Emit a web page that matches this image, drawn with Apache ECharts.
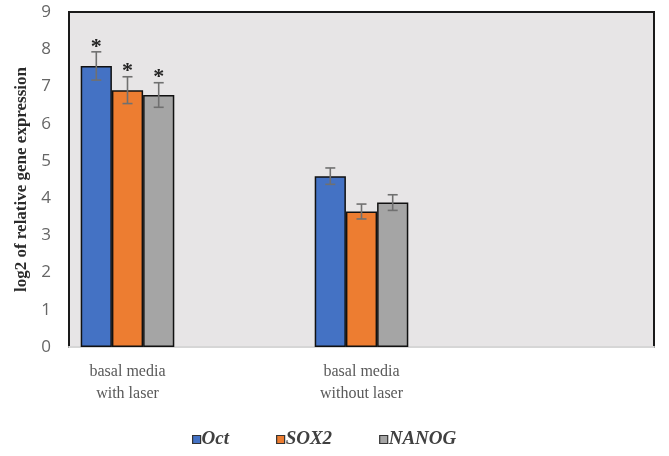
<!DOCTYPE html>
<html>
<head>
<meta charset="utf-8">
<script src="https://cdn.jsdelivr.net/npm/echarts@6/dist/echarts.min.js"></script>
<style>
  html, body { margin: 0; padding: 0; background: #fff; }
  #chart { width: 669px; height: 456px; }
</style>
</head>
<body>
<div id="chart"></div>
<script>
// categories (empty slots keep the spacing of the original plot)
let categories = ['basal media\nwith laser', '', 'basal media\nwithout laser', '', '']
let seriesNames = ['Oct', 'SOX2', 'NANOG']
let octValues = [7.55, null, 4.59, null, null]
let sox2Values = [6.90, null, 3.64, null, null]
let nanogValues = [6.77, null, 3.88, null, null]
let octErr = [0.38, null, 0.22, null, null]
let sox2Err = [0.36, null, 0.20, null, null]
let nanogErr = [0.33, null, 0.21, null, null]
let significant = [true, false, false, false, false]
let yTicks = [0, 1, 2, 3, 4, 5, 6, 7, 8, 9]

let colors = ['#4472C4', '#ED7D31', '#A5A5A5']
let values = [octValues, sox2Values, nanogValues]
let errors = [octErr, sox2Err, nanogErr]

let catGap = 0.2

// error bar data: [category, value, err, seriesIndex, star]
let errData = []
for (let s = 0; s < 3; s++) {
  for (let i = 0; i < categories.length; i++) {
    if (values[s][i] != null) {
      errData.push([i, values[s][i], errors[s][i], s, significant[i] ? 1 : 0])
    }
  }
}

function renderErr(params, api) {
  let cat = api.value(0)
  let v = api.value(1)
  let e = api.value(2)
  let s = api.value(3)
  let star = api.value(4)
  let band = api.size([1, 0])[0]
  let bw = band * (1 - catGap) / 3
  let center = api.coord([cat, v])
  let x = center[0] + (s - 1) * bw
  let top = api.coord([cat, v + e])[1]
  let bot = api.coord([cat, v - e])[1]
  let cap = 5
  let style = { stroke: '#707070', lineWidth: 1.6 }
  let children = [
    { type: 'line', shape: { x1: x, y1: top, x2: x, y2: bot }, style: style },
    { type: 'line', shape: { x1: x - cap, y1: top, x2: x + cap, y2: top }, style: style },
    { type: 'line', shape: { x1: x - cap, y1: bot, x2: x + cap, y2: bot }, style: style }
  ]
  if (star) {
    children.push({
      type: 'text',
      style: {
        text: '*', x: x, y: top - 5, align: 'center', verticalAlign: 'middle',
        font: 'bold 22px "Liberation Serif"', fill: '#222'
      }
    })
  }
  return { type: 'group', children: children }
}

let chart = echarts.init(document.getElementById('chart'))
let option = {
  backgroundColor: '#fff',
  animation: false,
  grid: {
    left: 69,
    right: 15,
    top: 12,
    bottom: 109,
    outerBoundsMode: 'none',
    containLabel: false,
    show: true,
    backgroundColor: '#e7e5e6',
    borderColor: '#1a1a1a',
    borderWidth: 2
  },
  legend: {
    top: 425,
    left: 187,
    data: seriesNames,
    icon: 'rect',
    itemWidth: 8,
    itemHeight: 8,
    itemGap: 47,
    itemStyle: { borderColor: '#333', borderWidth: 1.2 },
    textStyle: {
      fontFamily: 'Liberation Serif',
      fontStyle: 'italic',
      fontWeight: 'bold',
      fontSize: 19,
      color: '#404040',
      padding: [0, 0, 0, -4]
    }
  },
  xAxis: {
    type: 'category',
    data: categories,
    axisLine: { show: true, lineStyle: { color: '#d6d6d6', width: 2 } },
    axisTick: { show: false },
    axisLabel: {
      interval: 0,
      margin: 14,
      fontFamily: 'Liberation Serif',
      fontSize: 16,
      lineHeight: 22,
      color: '#595959'
    }
  },
  yAxis: {
    type: 'value',
    min: yTicks[0],
    max: yTicks[yTicks.length - 1],
    interval: 1,
    name: 'log2 of relative gene expression',
    nameLocation: 'middle',
    nameGap: 35,
    nameTextStyle: {
      fontFamily: 'Liberation Serif',
      fontWeight: 'bold',
      fontSize: 17,
      color: '#2a2a2a'
    },
    axisLine: { show: true, lineStyle: { color: '#1a1a1a', width: 2 } },
    axisTick: { show: false },
    splitLine: { show: false },
    axisLabel: {
      margin: 18,
      fontFamily: 'Open Sans',
      fontSize: 17,
      color: '#666'
    }
  },
  series: [
    {
      name: seriesNames[0], type: 'bar', data: octValues,
      barGap: 0, barCategoryGap: (catGap * 100) + '%',
      itemStyle: { color: colors[0], borderColor: '#111', borderWidth: 1.5 }
    },
    {
      name: seriesNames[1], type: 'bar', data: sox2Values,
      barGap: 0, barCategoryGap: (catGap * 100) + '%',
      itemStyle: { color: colors[1], borderColor: '#111', borderWidth: 1.5 }
    },
    {
      name: seriesNames[2], type: 'bar', data: nanogValues,
      barGap: 0, barCategoryGap: (catGap * 100) + '%',
      itemStyle: { color: colors[2], borderColor: '#111', borderWidth: 1.5 }
    },
    {
      name: 'err', type: 'custom', data: errData, renderItem: renderErr,
      z: 10, silent: true
    }
  ]
}
chart.setOption(option)
</script>
</body>
</html>
